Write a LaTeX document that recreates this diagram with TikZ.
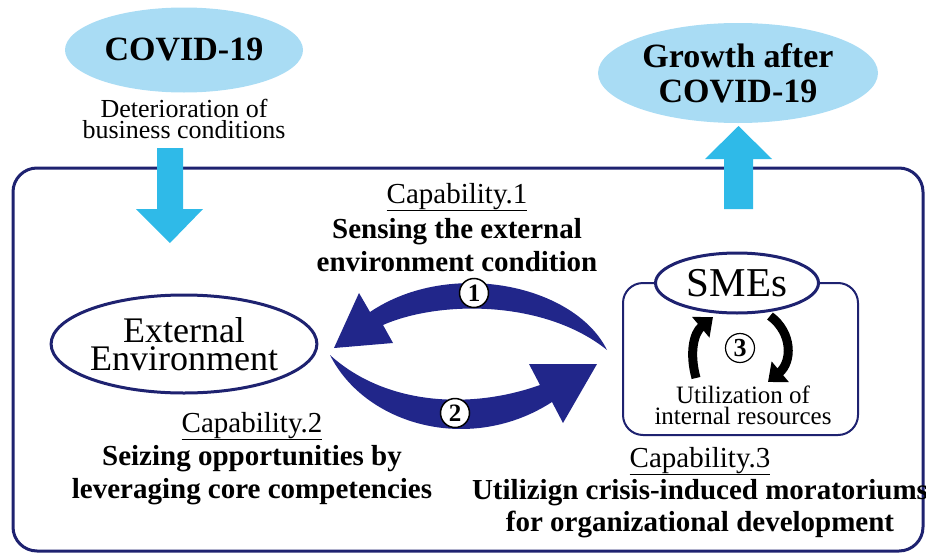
\documentclass[tikz,border=0pt]{standalone}
\usepackage{fontspec}
\setmainfont{Liberation Serif}
\usetikzlibrary{shapes.geometric,arrows.meta}
\definecolor{skyfill}{HTML}{A9DCF4}
\definecolor{arrowcyan}{HTML}{2FBAE8}
\definecolor{navyline}{HTML}{1E2270}
\definecolor{navyfill}{HTML}{21268A}

\tikzset{
  sky/.style={ellipse, fill=skyfill, inner sep=0pt, align=center},
  oval/.style={ellipse, draw=navyline, line width=3pt, fill=white, inner sep=0pt, align=center},
  capname/.style={anchor=base, font=\fontsize{29}{34}\selectfont},
  captext/.style={align=center, inner sep=0pt, font=\bfseries\fontsize{29}{33}\selectfont},
  numcircle/.style={circle, draw, fill=white, minimum size=29pt, inner sep=0pt, line width=1.5pt},
  blackarrow/.style={line width=9pt, -{Triangle[length=16pt,width=26pt]}}
}

\begin{document}
\begin{tikzpicture}[x=1pt, y=-1pt]
  \useasboundingbox (0,0) rectangle (926,554);

  % frame around the firm side
  \node[draw=navyline, line width=3pt, rounded corners=24pt, minimum width=910pt, minimum height=383pt] (frame) at (468,359.5) {};

  % top: shock and outcome
  \node[sky, minimum width=238pt, minimum height=85pt, font=\bfseries\fontsize{34}{36}\selectfont] (covid) at (184,50) {COVID-19};
  \node[align=center, inner sep=0pt, font=\fontsize{26}{21.5}\selectfont] (deter) at (184,119) {Deterioration of\\business conditions};
  \node[sky, minimum width=280pt, minimum height=100pt, font=\bfseries\fontsize{34}{35}\selectfont] (growth) at (738,73) {Growth after\\COVID-19};

  % block arrows in and out of the frame
  \fill[arrowcyan] (157,148) -- (183,148) -- (183,209) -- (203,209) -- (170,243) -- (136,209) -- (157,209) -- cycle;
  \fill[arrowcyan] (724,209) -- (753,209) -- (753,159) -- (772,159) -- (738.5,126) -- (705,159) -- (724,159) -- cycle;

  % capability 1
  \node[capname] (cap1) at (457,203) {\underline{Capability.1}};
  \node[captext] (sense) at (457,245) {Sensing the external\\environment condition};

  % external environment
  \node[oval, minimum width=256pt, minimum height=98pt, font=\fontsize{36}{28}\selectfont] (env) at (184,344) {External\\Environment};

  % capability 2
  \node[capname] (cap2) at (252,432) {\underline{Capability.2}};
  \node[captext] (seize) at (252,475) {Seizing opportunities by\\leveraging core competencies};

  % loop between environment and SMEs
  \fill[navyfill] (607,350) .. controls (575,285) and (450,258) .. (370,312) -- (359,293) -- (334,348) -- (393,343) -- (383,325) .. controls (440,300) and (545,300) .. (607,350) -- cycle;
  \fill[navyfill] (330,355) .. controls (365,425) and (470,455) .. (552,402) -- (563,423) -- (597,364) -- (529,364) -- (540,385) .. controls (470,410) and (385,405) .. (330,355) -- cycle;
  \node[numcircle, font=\bfseries\fontsize{25}{25}\selectfont] (n1) at (474,293) {1};
  \node[numcircle, font=\bfseries\fontsize{25}{25}\selectfont] (n2) at (455,413) {2};

  % SMEs and internal resources
  \node[draw=navyline, line width=2pt, rounded corners=20pt, minimum width=235pt, minimum height=152pt] (smebox) at (740.5,359) {};
  \node[oval, minimum width=163pt, minimum height=60pt, font=\fontsize{41}{41}\selectfont] (smes) at (737,283) {SMEs};
  \draw[blackarrow] (696,378) .. controls (689,352) and (694,333) .. (713,317);
  \draw[blackarrow] (770,316) .. controls (793,333) and (792,362) .. (768,382);
  \node[numcircle, line width=1.2pt, font=\bfseries\fontsize{26}{26}\selectfont] (n3) at (740,348) {3};
  \node[align=center, inner sep=0pt, font=\fontsize{25}{21}\selectfont] (inres) at (743,405) {Utilization of\\internal resources};

  % capability 3
  \node[capname] (cap3) at (700,467) {\underline{Capability.3}};
  \node[captext, font=\bfseries\fontsize{29}{32}\selectfont] (utilize) at (700,509) {Utilizign crisis-induced moratoriums\\for organizational development};
\end{tikzpicture}
\end{document}
